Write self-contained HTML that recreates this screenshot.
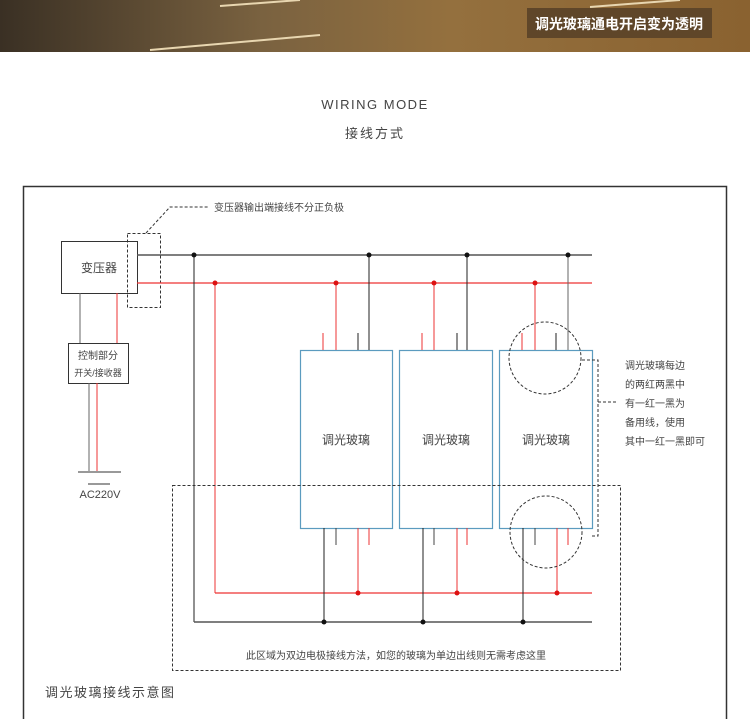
<!DOCTYPE html>
<html><head><meta charset="utf-8"><style>
body{margin:0;width:750px;height:719px;overflow:hidden;background:#fff;font-family:"Liberation Sans","Noto Sans CJK SC",sans-serif;}
</style></head><body>
<svg width="750" height="719" viewBox="0 0 750 719" xmlns="http://www.w3.org/2000/svg" style="position:absolute;left:0;top:0">
<defs><linearGradient id="g" x1="0" x2="1"><stop offset="0" stop-color="#3a3024"/><stop offset="0.35" stop-color="#7a6240"/><stop offset="0.6" stop-color="#94703e"/><stop offset="1" stop-color="#8a6230"/></linearGradient></defs>
<rect x="0" y="0" width="750" height="52" fill="url(#g)"/>
<line x1="150" y1="50" x2="320" y2="35" stroke="#e8d6b0" stroke-width="2"/>
<line x1="220" y1="6" x2="300" y2="0" stroke="#e8d6b0" stroke-width="2"/>
<line x1="590" y1="7" x2="680" y2="0" stroke="#e8d6b0" stroke-width="2"/>
<rect x="527" y="8" width="185" height="30" fill="#5a4328" opacity="0.9"/>
<text x="619" y="29" font-size="14" fill="#fff" text-anchor="middle" font-weight="bold">调光玻璃通电开启变为透明</text>
<text x="375" y="109" font-size="13" fill="#444" text-anchor="middle" letter-spacing="1.5">WIRING MODE</text>
<text x="375" y="138" font-size="13" fill="#444" text-anchor="middle" letter-spacing="2">接线方式</text>
<rect x="23.5" y="186.5" width="703" height="540" fill="none" stroke="#333" stroke-width="1.5"/>
<g font-size="11" fill="#444">
<rect x="61.5" y="241.5" width="76" height="52" fill="none" stroke="#333"/>
<text x="99" y="272" text-anchor="middle" font-size="12">变压器</text>
<rect x="127.5" y="233.5" width="33" height="74" fill="none" stroke="#333" stroke-dasharray="3,2"/>
<polyline points="146,233 170,207 208,207" fill="none" stroke="#333" stroke-dasharray="3,2"/>
<text x="214" y="211" font-size="10">变压器输出端接线不分正负极</text>
<line x1="80" y1="293" x2="80" y2="343" stroke="#666"/>
<line x1="117" y1="293" x2="117" y2="343" stroke="#e33"/>
<rect x="68.5" y="343.5" width="60" height="40" fill="none" stroke="#333"/>
<text x="98" y="359" text-anchor="middle" font-size="10">控制部分</text>
<text x="98" y="376" text-anchor="middle" font-size="9">开关/接收器</text>
<line x1="89" y1="383" x2="89" y2="471" stroke="#666"/>
<line x1="97" y1="383" x2="97" y2="471" stroke="#e33"/>
<line x1="78" y1="472" x2="121" y2="472" stroke="#333"/>
<line x1="88" y1="484" x2="110" y2="484" stroke="#333"/>
<text x="100" y="498" text-anchor="middle">AC220V</text>
<!-- buses -->
<line x1="137" y1="255" x2="592" y2="255" stroke="#555" stroke-width="1.5"/>
<line x1="137" y1="283" x2="592" y2="283" stroke="#e33" stroke-width="1.2"/>
<line x1="194" y1="255" x2="194" y2="622" stroke="#222"/>
<line x1="215" y1="283" x2="215" y2="593" stroke="#e33"/>
<line x1="194" y1="622" x2="592" y2="622" stroke="#555" stroke-width="1.5"/>
<line x1="215" y1="593" x2="592" y2="593" stroke="#e33" stroke-width="1.2"/>
<g id="p">
</g>
</g>
<g>
<!-- panels -->
<g stroke-width="1.2">
<rect x="300.5" y="350.5" width="92" height="178" fill="none" stroke="#5b9bbf"/>
<rect x="399.5" y="350.5" width="93" height="178" fill="none" stroke="#5b9bbf"/>
<rect x="499.5" y="350.5" width="93" height="178" fill="none" stroke="#5b9bbf"/>
</g>
<g font-size="12" fill="#444" text-anchor="middle">
<text x="346" y="444">调光玻璃</text><text x="446" y="444">调光玻璃</text><text x="546" y="444">调光玻璃</text>
</g>
<!-- top connections -->
<g>
<line x1="336" y1="283" x2="336" y2="350" stroke="#e33"/><line x1="369" y1="255" x2="369" y2="350" stroke="#222"/>
<line x1="323" y1="333" x2="323" y2="350" stroke="#e33"/><line x1="358" y1="333" x2="358" y2="350" stroke="#222"/>
<line x1="434" y1="283" x2="434" y2="350" stroke="#e33"/><line x1="467" y1="255" x2="467" y2="350" stroke="#222"/>
<line x1="422" y1="333" x2="422" y2="350" stroke="#e33"/><line x1="457" y1="333" x2="457" y2="350" stroke="#222"/>
<line x1="535" y1="283" x2="535" y2="350" stroke="#e33"/><line x1="568" y1="255" x2="568" y2="350" stroke="#666"/>
<line x1="522" y1="333" x2="522" y2="350" stroke="#e33"/><line x1="556" y1="333" x2="556" y2="350" stroke="#222"/>
<!-- bottom -->
<line x1="324" y1="528" x2="324" y2="622" stroke="#222"/><line x1="358" y1="528" x2="358" y2="593" stroke="#e33"/>
<line x1="336" y1="528" x2="336" y2="545" stroke="#444"/><line x1="369" y1="528" x2="369" y2="545" stroke="#e33"/>
<line x1="423" y1="528" x2="423" y2="622" stroke="#222"/><line x1="457" y1="528" x2="457" y2="593" stroke="#e33"/>
<line x1="434" y1="528" x2="434" y2="545" stroke="#444"/><line x1="467" y1="528" x2="467" y2="545" stroke="#e33"/>
<line x1="523" y1="528" x2="523" y2="622" stroke="#222"/><line x1="557" y1="528" x2="557" y2="593" stroke="#e33"/>
<line x1="535" y1="528" x2="535" y2="545" stroke="#444"/><line x1="568" y1="528" x2="568" y2="545" stroke="#e33"/>
</g>
<g fill="#111"><circle cx="194" cy="255" r="2.5"/><circle cx="369" cy="255" r="2.5"/><circle cx="467" cy="255" r="2.5"/><circle cx="568" cy="255" r="2.5"/>
<circle cx="324" cy="622" r="2.5"/><circle cx="423" cy="622" r="2.5"/><circle cx="523" cy="622" r="2.5"/></g>
<g fill="#d11"><circle cx="215" cy="283" r="2.5"/><circle cx="336" cy="283" r="2.5"/><circle cx="434" cy="283" r="2.5"/><circle cx="535" cy="283" r="2.5"/>
<circle cx="358" cy="593" r="2.5"/><circle cx="457" cy="593" r="2.5"/><circle cx="557" cy="593" r="2.5"/></g>
<g fill="none" stroke="#333" stroke-dasharray="3,2">
<circle cx="545" cy="358" r="36"/><circle cx="546" cy="532" r="36"/>
<polyline points="582,360 598,360 598,536 591,536"/>
<line x1="598" y1="402" x2="618" y2="402"/>
<rect x="172.5" y="485.5" width="448" height="185"/>
</g>
<g font-size="10" fill="#444">
<text x="625" y="369">调光玻璃每边</text><text x="625" y="388">的两红两黑中</text><text x="625" y="407">有一红一黑为</text><text x="625" y="426">备用线，使用</text><text x="625" y="445">其中一红一黑即可</text>
<text x="396" y="659" text-anchor="middle">此区域为双边电极接线方法，如您的玻璃为单边出线则无需考虑这里</text>
</g>
<text x="45" y="697" font-size="13" fill="#444" letter-spacing="1.5">调光玻璃接线示意图</text>
</g>
</svg>
</body></html>
